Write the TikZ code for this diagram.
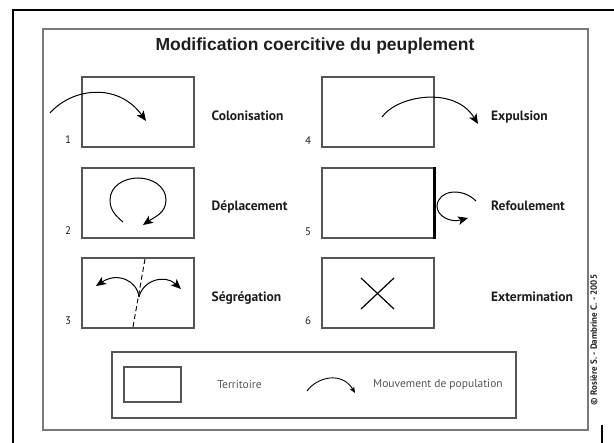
\documentclass[tikz,border=0pt]{standalone}
\usepackage{fontspec}
\setmainfont{PT Sans}
\newfontfamily\titlefont{Liberation Sans}
\usetikzlibrary{arrows.meta}
\definecolor{boxgray}{HTML}{555555}
\definecolor{framegray}{HTML}{7A7A7A}
\definecolor{txt}{HTML}{1E1E1E}
\begin{document}
\begin{tikzpicture}[x=1pt,y=1pt,
  territ/.style={draw=boxgray, line width=1.2pt, minimum width=112pt, minimum height=70pt, inner sep=0pt},
  lab/.style={font=\bfseries\fontsize{13.5}{15}\selectfont, text=txt, anchor=base west, inner sep=0pt},
  num/.style={font=\fontsize{11}{12}\selectfont, text=txt, inner sep=0pt},
  mv/.style={line width=1pt, -{Stealth[length=10pt,width=8.5pt,inset=2.5pt]}},
  mvsmall/.style={line width=0.9pt, -{Stealth[length=6pt,width=5pt,inset=1.5pt]}},
  legtxt/.style={font=\fontsize{11.5}{13}\selectfont, text=boxgray, inner sep=0pt}
]
\useasboundingbox (0,0) rectangle (614,-443);
% outer black frame
\coordinate (obl) at (13,-443);
\coordinate (otl) at (13,-10);
\coordinate (otr) at (614,-10);
\draw[line width=1.6pt] (obl) -- (otl) -- (otr);
\coordinate (orb1) at (602,-425);
\coordinate (orb2) at (602,-443);
\draw[line width=1.6pt] (orb1) -- (orb2);
% inner frame
\node[draw=framegray, line width=1.5pt, minimum width=545pt, minimum height=401pt, inner sep=0pt] (frame) at (315.5,-229.5) {};
% title
\node[font=\titlefont\bfseries\fontsize{17.5}{20}\selectfont, text=txt, inner sep=0pt] (title) at (315,-46) {Modification coercitive du peuplement};
% boxes
\node[territ] (b1) at (138,-112) {};
\node[territ] (b2) at (138,-203) {};
\node[territ] (b3) at (138,-293) {};
\node[territ] (b4) at (378,-112) {};
\node[territ] (b5) at (378,-203) {};
\node[territ] (b6) at (378,-293) {};
% numbers
\node[num] (n1) at (68,-140) {1};
\node[num] (n2) at (68,-231) {2};
\node[num] (n3) at (68,-321) {3};
\node[num] (n4) at (308,-141) {4};
\node[num] (n5) at (308,-232) {5};
\node[num] (n6) at (308,-321) {6};
% labels
\node[lab] (l1) at (211.5,-121) {Colonisation};
\node[lab] (l2) at (211.5,-211) {Déplacement};
\node[lab] (l3) at (211.5,-302) {Ségrégation};
\node[lab] (l4) at (491,-121) {Expulsion};
\node[lab] (l5) at (491,-211) {Refoulement};
\node[lab] (l6) at (491,-302) {Extermination};
% 1 colonisation
\draw[mv] (50,-113) .. controls (72,-88) and (118,-82) .. (146,-121);
% 4 expulsion
\draw[mv] (382,-117) .. controls (398,-95) and (455,-86) .. (478,-124);
% 2 deplacement
\draw[mv] (123,-222) to[out=140,in=-90] (110,-200) to[out=90,in=180] (138,-178) to[out=0,in=90] (166,-200) to[out=-90,in=35] (143,-225);
% 3 segregation
\draw[line width=0.9pt, dash pattern=on 5pt off 3pt] (145,-259) -- (133,-327);
\draw[mv] (139,-297) .. controls (137,-280) and (117,-272) .. (96,-286);
\draw[mv] (139,-297) .. controls (143,-280) and (165,-274) .. (181,-289);
% 5 refoulement
\draw[line width=3pt] (b5.north east) -- (b5.south east);
\draw[mv] (476,-201) .. controls (462,-187) and (438,-190) .. (437,-206) .. controls (437,-216) and (450,-223) .. (468,-218);
% 6 extermination
\draw[line width=1.2pt] (361,-278) -- (394,-309);
\draw[line width=1.2pt] (394,-278) -- (361,-309);
% legend
\node[draw=boxgray, line width=1.2pt, minimum width=404pt, minimum height=66pt, inner sep=0pt] (legend) at (314,-385) {};
\node[draw=boxgray, line width=1.2pt, minimum width=57pt, minimum height=35pt, inner sep=0pt] (legbox) at (152.5,-384.5) {};
\node[legtxt] (legt) at (239.5,-385) {Territoire};
\draw[mvsmall] (307,-391) .. controls (317,-377) and (342,-371) .. (355,-393);
\node[legtxt, anchor=west] (legm) at (373,-385) {Mouvement de population};
% copyright
\node[rotate=90, font=\bfseries\fontsize{9}{10}\selectfont, text=txt, inner sep=0pt] (copy) at (594,-340) {© Rosière S. - Dambrine C. - 2005};
\end{tikzpicture}
\end{document}
